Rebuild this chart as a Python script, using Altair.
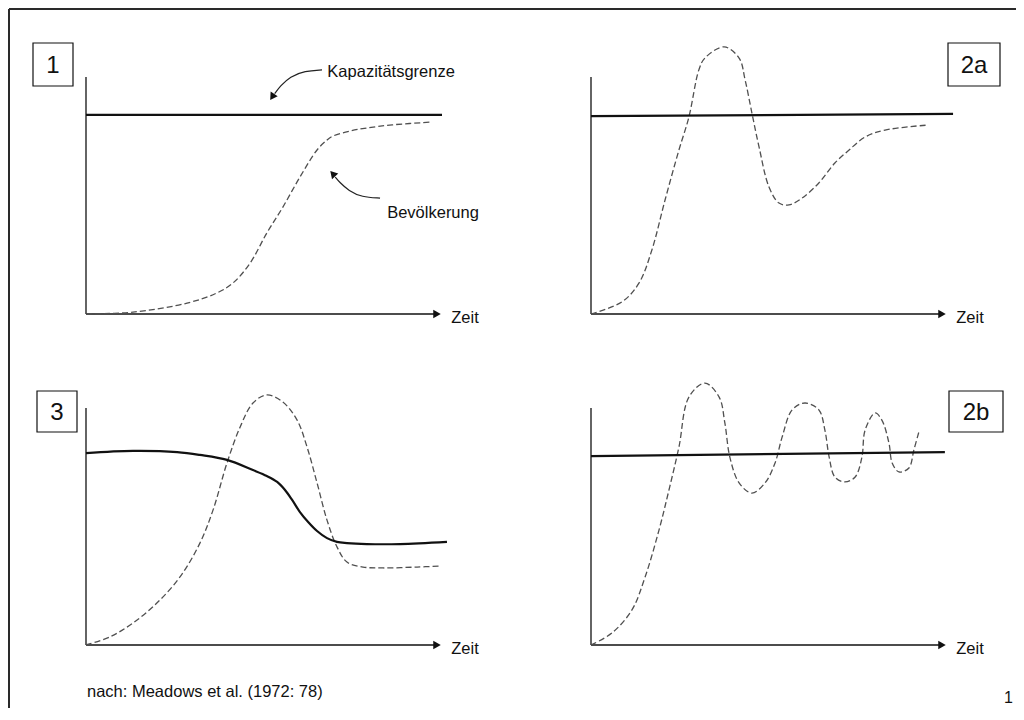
import altair as alt
import pandas as pd

# ---------------- data (panel-local units: time 0..100, level 0..100) ----------------
# Panel 1: S-shaped growth towards the capacity limit
p1_pop_t = [0, 13.2, 28.4, 36.8, 41.3, 46.1, 50.8, 55.3, 60.1, 64.9, 67.7, 69.4, 74.2, 78.9, 86.0, 97.2]
p1_pop_v = [0, 0.8, 4.6, 8.9, 13.1, 21.5, 34.2, 45.1, 57.8, 69.2, 73.4, 75.1, 77.2, 78.5, 79.8, 81.0]
p1_cap_t = [0, 100]
p1_cap_v = [84.0, 84.0]

# Panel 2a: overshoot and damped oscillation
p2a_pop_t = [0, 8.7, 13.5, 17.1, 20.8, 24.7, 27.5, 30.3, 32.0, 37.4, 41.6, 43.3, 45.2, 47.2,
             50.0, 52.8, 55.6, 59.3, 64.0, 68.5, 72.5, 77.0, 82.6, 94.4]
p2a_pop_v = [0, 5.1, 13.1, 27.0, 48.1, 69.2, 83.1, 103.0, 108.0, 112.7, 108.0, 98.7, 84.8, 70.5,
             53.6, 46.8, 46.0, 48.9, 55.3, 63.7, 69.2, 74.7, 77.6, 79.7]
p2a_cap_t = [0, 101.7]
p2a_cap_v = [83.5, 84.4]

# Panel 3: overshoot and collapse, eroding capacity
p3_cap_t = [0, 13.2, 25.6, 32.0, 39.6, 46.9, 50.8, 53.7, 55.9, 57.9, 60.1, 62.4, 64.9, 67.7,
            70.5, 73.3, 78.9, 88.2, 101.4]
p3_cap_v = [81.0, 81.9, 81.4, 80.2, 78.1, 73.8, 71.3, 68.8, 65.4, 61.2, 56.1, 51.9, 48.1, 45.1,
            43.5, 43.0, 42.6, 42.6, 43.5]
p3_pop_t = [0, 6.7, 13.2, 19.9, 26.4, 32.0, 35.7, 39.6, 43.3, 46.9, 50.8, 55.3, 59.3, 62.1,
            64.9, 67.7, 70.5, 73.3, 77.8, 83.4, 93.0, 99.4]
p3_pop_v = [0, 3.4, 9.3, 17.7, 28.7, 43.0, 57.0, 76.8, 92.0, 102.1, 105.5, 102.5, 94.9, 83.5,
            68.4, 52.7, 41.4, 35.0, 32.9, 32.5, 32.9, 33.3]

# Panel 2b: persistent oscillation around the capacity limit
p2b_pop_t = [0, 5.9, 11.5, 15.2, 19.1, 21.9, 24.7, 27.5, 32.0, 36.0, 37.6, 39.0, 41.6, 45.2,
             48.9, 51.7, 53.7, 56.5, 60.1, 64.0, 65.7, 66.9, 68.5, 71.3, 74.2, 76.1, 77.0,
             79.8, 81.7, 83.7, 84.6, 86.5, 89.3, 90.7, 92.1]
p2b_pop_v = [0, 5.1, 14.8, 28.7, 48.5, 65.4, 83.5, 104.6, 110.5, 104.6, 93.7, 79.3, 68.4, 64.1,
             68.4, 76.8, 87.8, 99.2, 102.1, 99.2, 90.7, 79.3, 70.9, 68.8, 70.9, 79.3, 90.7,
             97.9, 94.9, 85.2, 76.8, 73.0, 74.7, 82.3, 89.9]
p2b_cap_t = [0, 99.4]
p2b_cap_v = [79.7, 81.4]

panel_names = ["1", "2a", "3", "2b"]
axis_label = "Zeit"
note_cap = "Kapazitätsgrenze"
note_pop = "Bevölkerung"
source_text = "nach: Meadows et al. (1972: 78)"
page_number = "1"

# ---------------- layout ----------------
W, H = 1008, 700
ORIGIN = {"1": (86, 314), "2a": (591, 314), "3": (86, 645), "2b": (591, 645)}
SX, SY = 3.56, 2.37
FONT = "Liberation Sans"


def place(panel, t, v):
    x0, y0 = ORIGIN[panel]
    return x0 + t * SX, y0 - v * SY


def line_rows(panel, name, ts, vs):
    out = []
    for i, (t, v) in enumerate(zip(ts, vs)):
        x, y = place(panel, t, v)
        out.append({"id": f"{panel}-{name}", "order": i, "x": x, "y": y})
    return out


dashed = []
dashed += line_rows("1", "pop", p1_pop_t, p1_pop_v)
dashed += line_rows("2a", "pop", p2a_pop_t, p2a_pop_v)
dashed += line_rows("3", "pop", p3_pop_t, p3_pop_v)
dashed += line_rows("2b", "pop", p2b_pop_t, p2b_pop_v)
solid = []
solid += line_rows("1", "cap", p1_cap_t, p1_cap_v)
solid += line_rows("2a", "cap", p2a_cap_t, p2a_cap_v)
solid += line_rows("3", "cap", p3_cap_t, p3_cap_v)
solid += line_rows("2b", "cap", p2b_cap_t, p2b_cap_v)
df_dash = pd.DataFrame(dashed)
df_solid = pd.DataFrame(solid)

# axes (L-shaped) and arrow heads
axes_rows, head_rows, zeit_rows = [], [], []
for p in panel_names:
    xa, ya = place(p, 0, 0)
    xt, yt = place(p, 100, 100)
    axes_rows.append({"x": xa, "x2": xa, "y": ya, "y2": yt})
    axes_rows.append({"x": xa, "x2": xt - 4, "y": ya, "y2": ya})
    hx, hy = place(p, 98.6, 0)
    head_rows.append({"x": hx, "y": hy})
    zx, zy = place(p, 102.6, -1.6)
    zeit_rows.append({"x": zx, "y": zy, "label": axis_label})
df_axes = pd.DataFrame(axes_rows)
df_heads = pd.DataFrame(head_rows)
df_zeit = pd.DataFrame(zeit_rows)

# annotation arrows in panel 1
ann = []
ann += line_rows("1", "a_cap", [66.3, 61.5, 57.3, 54.6, 53.0], [103.0, 102.6, 100.2, 96.2, 93.0])
ann += line_rows("1", "a_pop", [82.6, 77.5, 73.8, 71.2, 70.0], [48.9, 49.3, 52.0, 55.6, 57.8])
df_ann = pd.DataFrame(ann)
hx1, hy1 = place("1", 52.3, 91.6)
hx2, hy2 = place("1", 69.3, 59.2)
df_ann_heads = pd.DataFrame([
    {"x": hx1, "y": hy1, "ang": 213},
    {"x": hx2, "y": hy2, "ang": 318},
])
tx1, ty1 = place("1", 67.8, 101.9)
tx2, ty2 = place("1", 84.6, 42.6)
df_notes = pd.DataFrame([
    {"x": tx1, "y": ty1, "label": note_cap},
    {"x": tx2, "y": ty2, "label": note_pop},
])

# panel label boxes (page px)
df_boxes = pd.DataFrame([
    {"x": 33, "x2": 73, "y": 43, "y2": 86, "label": panel_names[0]},
    {"x": 948, "x2": 1000, "y": 43, "y2": 86, "label": panel_names[1]},
    {"x": 37, "x2": 77, "y": 391, "y2": 432, "label": panel_names[2]},
    {"x": 949, "x2": 1003, "y": 391, "y2": 432, "label": panel_names[3]},
])
df_boxes["cx"] = (df_boxes["x"] + df_boxes["x2"]) / 2
df_boxes["cy"] = (df_boxes["y"] + df_boxes["y2"]) / 2 + 1

df_border = pd.DataFrame([
    {"x": 9, "x2": 1016, "y": 9, "y2": 9},
    {"x": 9, "x2": 9, "y": 9, "y2": 708},
])
df_foot = pd.DataFrame([
    {"x": 87, "y": 692, "label": source_text},
])
df_page = pd.DataFrame([{"x": 1013, "y": 703, "label": page_number}])

# ---------------- chart ----------------
XS = alt.Scale(domain=[8, 8 + W], nice=False, zero=False)
YS = alt.Scale(domain=[8, 8 + H], nice=False, zero=False, reverse=True)
X = alt.X("x:Q", scale=XS, axis=None)
Y = alt.Y("y:Q", scale=YS, axis=None)

border = alt.Chart(df_border).mark_rule(color="#2a2a2a", strokeWidth=2).encode(
    x=X, x2="x2:Q", y=Y, y2="y2:Q")
axes = alt.Chart(df_axes).mark_rule(color="#111", strokeWidth=1.3).encode(
    x=X, x2="x2:Q", y=Y, y2="y2:Q")
heads = alt.Chart(df_heads).mark_point(shape="triangle-right", filled=True, color="#111",
                                        size=75, opacity=1).encode(x=X, y=Y)
zeit = alt.Chart(df_zeit).mark_text(align="left", baseline="middle", font=FONT,
                                     fontSize=16.5, color="#111").encode(x=X, y=Y, text="label:N")
dash_lines = alt.Chart(df_dash).mark_line(color="#505050", strokeWidth=1.3, strokeDash=[6, 3],
                                           interpolate="catmull-rom").encode(
    x=X, y=Y, detail="id:N", order="order:Q")
solid_lines = alt.Chart(df_solid).mark_line(color="#111", strokeWidth=2.2,
                                             interpolate="catmull-rom").encode(
    x=X, y=Y, detail="id:N", order="order:Q")
ann_lines = alt.Chart(df_ann).mark_line(color="#222", strokeWidth=1.2,
                                         interpolate="basis").encode(
    x=X, y=Y, detail="id:N", order="order:Q")
ann_heads = alt.Chart(df_ann_heads).mark_point(shape="triangle-up", filled=True, color="#111",
                                                size=70, opacity=1).encode(
    x=X, y=Y, angle=alt.Angle("ang:Q", scale=None))
notes = alt.Chart(df_notes).mark_text(align="left", baseline="middle", font=FONT,
                                       fontSize=16.5, color="#111").encode(x=X, y=Y, text="label:N")
boxes = alt.Chart(df_boxes).mark_rect(fill="white", stroke="#111", strokeWidth=1.2).encode(
    x=X, x2="x2:Q", y=Y, y2="y2:Q")
box_text = alt.Chart(df_boxes).mark_text(align="center", baseline="middle", font=FONT,
                                          fontSize=24, color="#111").encode(
    x=alt.X("cx:Q", scale=XS, axis=None), y=alt.Y("cy:Q", scale=YS, axis=None), text="label:N")
foot = alt.Chart(df_foot).mark_text(align="left", baseline="middle", font=FONT,
                                     fontSize=16.5, color="#111").encode(x=X, y=Y, text="label:N")
page = alt.Chart(df_page).mark_text(align="right", baseline="alphabetic", font=FONT,
                                     fontSize=16, color="#111").encode(x=X, y=Y, text="label:N")

chart = alt.layer(
    border, axes, heads, zeit, dash_lines, solid_lines, ann_lines, ann_heads, notes,
    boxes, box_text, foot, page
).properties(
    width=W, height=H, padding=0,
    autosize=alt.AutoSizeParams(type="none"),
    background="white",
).configure_view(stroke=None)

chart.save("out.html", embed_options={"renderer": "svg", "actions": False})
